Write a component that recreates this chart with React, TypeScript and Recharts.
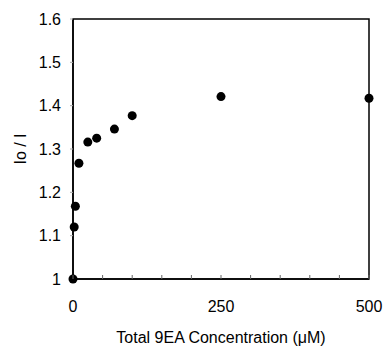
import React from "react";
import {
  ScatterChart,
  Scatter,
  XAxis,
  YAxis,
  ReferenceArea,
  Label,
} from "recharts";

const concentrations = [0, 2, 4, 10, 25, 40, 70, 100, 250, 500];
const ratios = [1.0, 1.12, 1.168, 1.267, 1.316, 1.325, 1.346, 1.377, 1.421, 1.417];

const xTicks = [0, 50, 100, 150, 200, 250, 300, 350, 400, 450, 500];
const xLabels = [0, 250, 500];
const yTicks = [1, 1.1, 1.2, 1.3, 1.4, 1.5, 1.6];

const data = concentrations.map((x, i) => ({ x, y: ratios[i] }));

const FONT = "'Liberation Sans', Arial, sans-serif";

function XTick(props: any) {
  const { x, y, payload } = props;
  const show = xLabels.includes(payload.value);
  return (
    <g>
      <line x1={x} y1={y} x2={x} y2={y - 4} stroke="#666" strokeWidth={1} />
      {show && (
        <text x={x} y={y + 33} textAnchor="middle" fontSize={16} fontFamily={FONT} fill="#000">
          {payload.value}
        </text>
      )}
    </g>
  );
}

function Dot(props: any) {
  const { cx, cy } = props;
  return <circle cx={cx} cy={cy} r={4.5} fill="#000" />;
}

export default function App() {
  return (
    <div style={{ width: 384, height: 350 }}>
      <style>{"html,body{margin:0;padding:0;overflow:hidden}svg.recharts-surface{overflow:visible}"}</style>
      <ScatterChart
        width={384}
        height={350}
        margin={{ top: 19, right: 15, bottom: 0, left: 0 }}
      >
        <XAxis
          type="number"
          dataKey="x"
          domain={[0, 500]}
          ticks={xTicks}
          interval={0}
          tick={<XTick />}
          tickLine={false}
          tickSize={0}
          tickMargin={0}
          axisLine={{ stroke: "#000", strokeWidth: 1.5 }}
          height={71}
        >
          <Label
            value="Total 9EA Concentration (μM)"
            position="insideBottom"
            offset={7}
            style={{ fontSize: 16, fontFamily: FONT, fill: "#000" }}
          />
        </XAxis>
        <YAxis
          type="number"
          dataKey="y"
          domain={[1, 1.6]}
          ticks={yTicks}
          interval={0}
          width={73}
          tickSize={3}
          tickMargin={9}
          tickLine={{ stroke: "#aaa" }}
          axisLine={{ stroke: "#000", strokeWidth: 1.5 }}
          tick={{ fontSize: 16, fontFamily: FONT, fill: "#000" }}
        >
          <Label
            value="Io / I"
            angle={-90}
            position="insideLeft"
            offset={20}
            style={{ fontSize: 16, fontFamily: FONT, fill: "#000", textAnchor: "middle" }}
          />
        </YAxis>
        <ReferenceArea
          x1={0}
          x2={500}
          y1={1}
          y2={1.6}
          fill="none"
          stroke="#000"
          strokeWidth={1.5}
          fillOpacity={0}
        />
        <Scatter data={data} shape={<Dot />} isAnimationActive={false} />
      </ScatterChart>
    </div>
  );
}
